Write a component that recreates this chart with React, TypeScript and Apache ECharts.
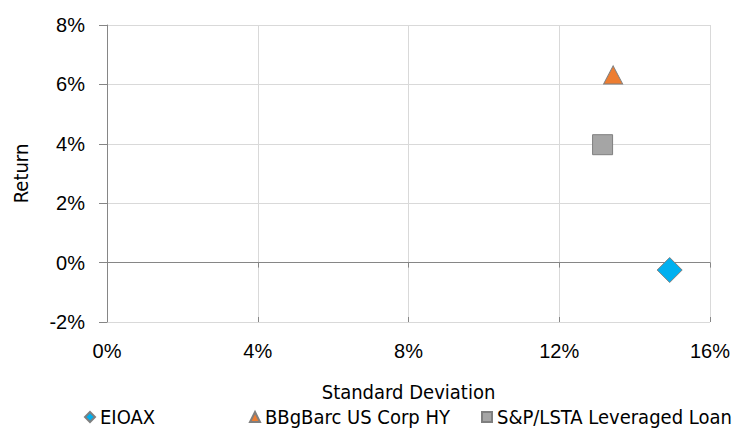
import React, { useEffect, useRef } from "react";
import * as echarts from "echarts";

const seriesNames = ["EIOAX", "BBgBarc US Corp HY", "S&P/LSTA Leveraged Loan"];
const stdDev = [14.93, 13.43, 13.15];
const returns = [-0.25, 6.32, 3.97];
const xTicks = { min: 0, max: 16, interval: 4 };
const yTicks = { min: -2, max: 8, interval: 2 };

const colors = ["#00b0f0", "#ed7d31", "#a5a5a5"];
const symbols = ["diamond", "triangle", "rect"];
const symbolSizes: any[] = [[25, 25], [19, 18], [20, 20]];

const tickFont = "'Liberation Sans', Arial, sans-serif";
const nameFont = "'Liberation Sans Narrow', 'DejaVu Sans Condensed', sans-serif";

export default function App() {
  const ref = useRef<HTMLDivElement>(null);
  useEffect(() => {
    if (!ref.current) return;
    const chart = echarts.init(ref.current, null, { renderer: "svg" });
    const baseX = {
      type: "value",
      min: xTicks.min,
      max: xTicks.max,
      interval: xTicks.interval,
      position: "bottom",
    };
    const legendLefts = [79, 244, 476];
    chart.setOption({
      animation: false,
      grid: { left: 107, right: 35, top: 25, bottom: 114 },
      legend: seriesNames.map((n, i) => ({
        data: [{ name: n, icon: symbols[i] }],
        left: legendLefts[i],
        top: 402,
        itemWidth: 10,
        itemHeight: 10,
        itemGap: 5,
        textStyle: { fontFamily: nameFont, fontSize: 20, color: "#000" },
      })),
      xAxis: [
        {
          ...baseX,
          name: "Standard Deviation",
          nameLocation: "middle",
          nameGap: 60,
          nameTextStyle: { fontFamily: nameFont, fontSize: 20, color: "#000" },
          axisLine: { show: false, onZero: false },
          axisTick: { show: false },
          axisLabel: {
            formatter: "{value}%",
            margin: 19,
            fontFamily: tickFont,
            fontSize: 20,
            color: "#000",
          },
          splitLine: { show: true, lineStyle: { color: "#d9d9d9", width: 1 } },
        },
        {
          ...baseX,
          axisLine: { show: true, onZero: true, lineStyle: { color: "#868686", width: 1 } },
          axisTick: { show: true, inside: false, length: 5, lineStyle: { color: "#868686" } },
          axisLabel: { show: false },
          splitLine: { show: false },
        },
        {
          ...baseX,
          axisLine: { show: false, onZero: true },
          axisTick: { show: true, inside: true, length: 5, lineStyle: { color: "#868686" } },
          axisLabel: { show: false },
          splitLine: { show: false },
        },
      ],
      yAxis: {
        type: "value",
        min: yTicks.min,
        max: yTicks.max,
        interval: yTicks.interval,
        name: "Return",
        nameLocation: "middle",
        nameGap: 76,
        nameTextStyle: { fontFamily: nameFont, fontSize: 20, color: "#000" },
        axisLine: { show: true, onZero: false, lineStyle: { color: "#868686", width: 1 } },
        axisTick: { show: true, inside: false, length: 8, lineStyle: { color: "#868686" } },
        axisLabel: {
          formatter: "{value}%",
          margin: 22,
          fontFamily: tickFont,
          fontSize: 20,
          color: "#000",
        },
        splitLine: { show: true, lineStyle: { color: "#d9d9d9", width: 1 } },
      },
      series: seriesNames.map((n, i) => ({
        name: n,
        type: "scatter",
        xAxisIndex: 0,
        symbol: symbols[i],
        symbolSize: symbolSizes[i],
        itemStyle: { color: colors[i], borderColor: "#7f7f7f", borderWidth: 1, opacity: 1 },
        data: [[stdDev[i], returns[i]]],
      })),
    });
    return () => chart.dispose();
  }, []);
  return <div ref={ref} style={{ width: 745, height: 436, margin: -8 }} />;
}
